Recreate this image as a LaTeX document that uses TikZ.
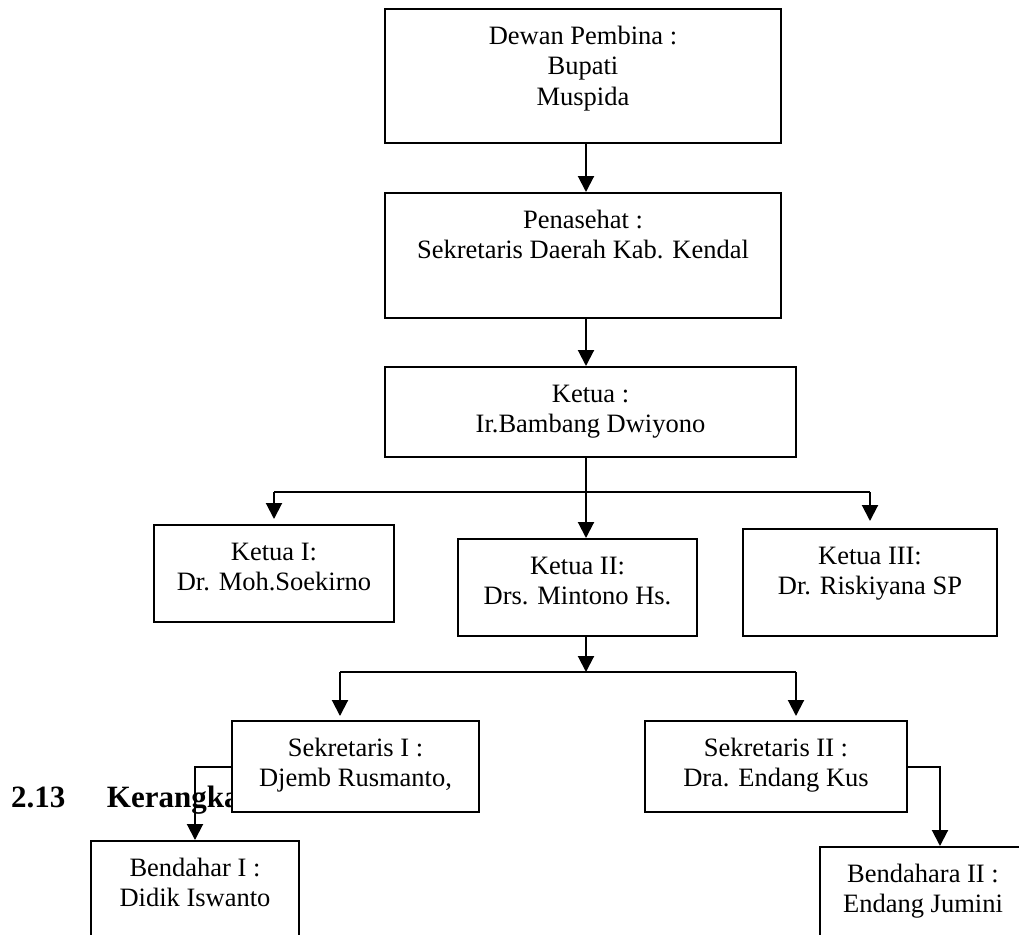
\documentclass[tikz,border=0pt]{standalone}
\usepackage{fontspec}
\setmainfont{Liberation Serif}
\usetikzlibrary{arrows.meta}

\newcommand{\boxstrut}{\rule{0pt}{17.5pt}}

\begin{document}
\begin{tikzpicture}[x=0.5pt, y=-0.5pt,
  box/.style={rectangle, draw=black, line width=1pt, fill=white, inner sep=0pt},
  %
  txt/.style={anchor=north, inner sep=0pt, align=center,
    font=\fontsize{13.25pt}{15.25pt}\selectfont},
  %
  head/.style={anchor=base west, inner sep=0pt,
    font=\fontsize{15.5pt}{18pt}\selectfont\bfseries},
  %
  >={Triangle[length=8pt, width=8pt]}
  ]

  \tikzset{every path/.style={line width=1pt}}
  \useasboundingbox (0,0) rectangle (1019,934);

  \begin{scope}
    \node [head] (judul) at (10,807) {\makebox[48pt][l]{2.13}Kerangka};
    %%%%%%%%%%%%%%%%%%%%%%%%%%%%%%%
    \node [box, minimum width=198pt, minimum height=67pt,
    label={[txt]north:{\boxstrut Dewan Pembina :\\ Bupati\\ Muspida}}]
    (pembina) at (583,76) {};
    \node [box, minimum width=198pt, minimum height=62.5pt,
    label={[txt]north:{\boxstrut Penasehat :\\ Sekretaris Daerah Kab. Kendal}}]
    (penasehat) at (583,255.5) {};
    \node [box, minimum width=205.5pt, minimum height=45pt,
    label={[txt]north:{\boxstrut Ketua :\\ Ir.Bambang Dwiyono}}]
    (ketua) at (590.5,412) {};
    %%%%%%%%%%%%%%%%%%%%%%%%%%%%%%%
    \node [box, minimum width=120pt, minimum height=48.5pt,
    label={[txt]north:{\boxstrut Ketua I:\\ Dr. Moh.Soekirno}}]
    (ketua1) at (274,573.5) {};
    \node [box, minimum width=119.5pt, minimum height=48.5pt,
    label={[txt]north:{\boxstrut Ketua II:\\ Drs. Mintono Hs.}}]
    (ketua2) at (577.5,587.5) {};
    \node [box, minimum width=127pt, minimum height=53.5pt,
    label={[txt]north:{\boxstrut Ketua III:\\ Dr. Riskiyana SP}}]
    (ketua3) at (870,582.5) {};
    %%%%%%%%%%%%%%%%%%%%%%%%%%%%%%%
    \node [box, minimum width=123.5pt, minimum height=45.5pt,
    label={[txt]north:{\boxstrut Sekretaris I :\\ Djemb Rusmanto,}}]
    (sek1) at (355.5,766.5) {};
    \node [box, minimum width=131pt, minimum height=45.5pt,
    label={[txt]north:{\boxstrut Sekretaris II :\\ Dra. Endang Kus}}]
    (sek2) at (776,766.5) {};
    %%%%%%%%%%%%%%%%%%%%%%%%%%%%%%%
    \node [box, minimum width=104pt, minimum height=59.5pt,
    label={[txt]north:{\boxstrut Bendahar I :\\ Didik Iswanto}}]
    (bend1) at (195,900.5) {};
    \node [box, minimum width=103pt, minimum height=56.5pt,
    label={[txt]north:{\boxstrut Bendahara II :\\ Endang Jumini}}]
    (bend2) at (923,903.5) {};
  \end{scope}

  \begin{scope}
    \coordinate (spine) at (586,0);
    \coordinate (bar1) at (0,492);
    \coordinate (bar2w) at (340,672);
    \coordinate (bar2e) at (796,672);

    \draw [->] (pembina.south -| spine) -- (penasehat.north -| spine);
    \draw [->] (penasehat.south -| spine) -- (ketua.north -| spine);
    \draw [->] (ketua.south -| spine) -- (ketua2.north -| spine);
    \draw (bar1 -| ketua1) -- (bar1 -| ketua3);
    \draw [->, shorten >=2.5pt] (bar1 -| ketua1) -- (ketua1.north);
    \draw [->, shorten >=3.5pt] (bar1 -| ketua3) -- (ketua3.north);
    \draw [->] (ketua2.south -| spine) -- (bar2w -| spine);
    \draw (bar2w) -- (bar2e);
    \draw [->, shorten >=2pt] (bar2w) -- (bar2w |- sek1.north);
    \draw [->, shorten >=2pt] (bar2e) -- (bar2e |- sek2.north);
    \draw [->] (sek1.west) -| (bend1.north);
    \draw [->] (sek2.east) -| ([xshift=8.5pt]bend2.north);
  \end{scope}

\end{tikzpicture}
\end{document}
